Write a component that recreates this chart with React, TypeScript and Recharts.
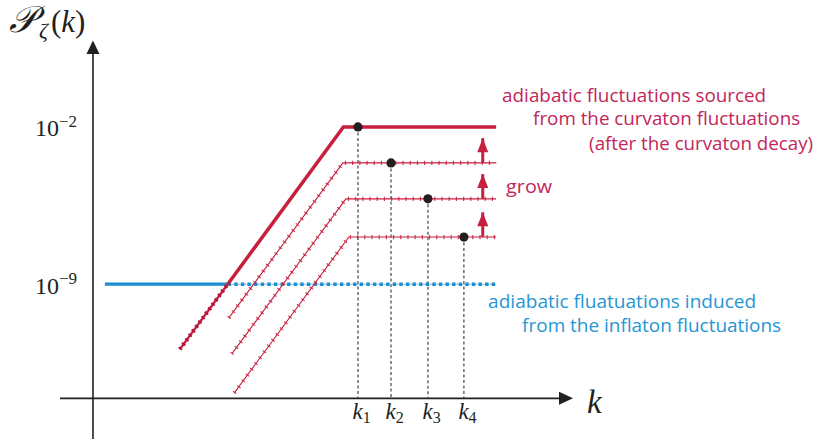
import React from 'react';
import { ComposedChart, Line, Scatter, XAxis, YAxis, ReferenceLine, ReferenceDot } from 'recharts';

// Schematic units: x = log10 k (arbitrary origin), y = log10 P_zeta
const X_DOMAIN: [number, number] = [-0.665, 9.68];
const Y_DOMAIN: [number, number] = [-15.89, 1.87];
const AXIS_Y = -14.08;
const X_END = 8.13;

const inflatonVisible = [{ x: 0.24, y: -9 }, { x: 2.717, y: -9 }];
const inflatonHidden = [{ x: 2.717, y: -9 }, { x: X_END, y: -9 }];
const curvatonLow = [{ x: 1.75, y: -11.9 }, { x: 2.717, y: -9 }];
const curvatonFinal = [{ x: 2.717, y: -9 }, { x: 5.05, y: -2 }, { x: X_END, y: -2 }];
const stageA = [{ x: 2.74, y: -10.5 }, { x: 5.04, y: -3.6 }, { x: X_END, y: -3.6 }];
const stageB = [{ x: 2.8, y: -12.1 }, { x: 5.1, y: -5.2 }, { x: X_END, y: -5.2 }];
const stageC = [{ x: 2.85, y: -13.84 }, { x: 5.16, y: -6.9 }, { x: X_END, y: -6.9 }];

const kNames = ['1', '2', '3', '4'];
const kValues = [5.344, 6.01, 6.755, 7.48];
const kLevels = [-2, -3.6, -5.2, -6.9];

const growX = 7.86;
const growFrom = [-6.9, -5.2, -3.6];
const growTo = [-5.8, -4.1, -2.5];

const yTickValues = [-2, -9];
const yTickExponents = ['−2', '−9'];

const RED = '#c71f3e';
const RED_TEXT = '#c2265a';
const BLUE = '#1b8dd0';
const BLUE_TEXT = '#2696d5';
const MATH = '"Liberation Serif", "DejaVu Serif", serif';
const SANS = '"Open Sans", "Noto Sans", sans-serif';

const kPoints = kValues.map((x, i) => ({ x, y: kLevels[i] }));

const arrowTip = (props: any) => {
  const { cx, cy, index } = props;
  if (index !== 1) return <g key={`a${index}`} />;
  return (
    <polygon
      key={`a${index}`}
      points={`${cx},${cy} ${cx - 5.5},${cy + 14} ${cx + 5.5},${cy + 14}`}
      fill={RED}
    />
  );
};

const blackDot = (props: any) => (
  <circle cx={props.cx} cy={props.cy} r={4.6} fill="#231f20" />
);

export default function App() {
  return (
    <div style={{ position: 'absolute', left: 0, top: 0, background: '#fff' }}>
      <ComposedChart
        width={815}
        height={439}
        margin={{ top: 40, right: 242, bottom: 0, left: 60 }}
      >
        <XAxis type="number" dataKey="x" domain={X_DOMAIN} hide allowDataOverflow />
        <YAxis type="number" dataKey="y" domain={Y_DOMAIN} hide allowDataOverflow />

        {/* axes */}
        <ReferenceLine
          segment={[{ x: X_DOMAIN[0], y: AXIS_Y }, { x: X_DOMAIN[1] - 0.2, y: AXIS_Y }]}
          stroke="#231f20"
          strokeWidth={1.6}
        />
        <ReferenceLine
          segment={[{ x: 0, y: Y_DOMAIN[0] }, { x: 0, y: Y_DOMAIN[1] - 0.4 }]}
          stroke="#231f20"
          strokeWidth={1.6}
        />
        <ReferenceDot
          x={X_DOMAIN[1]}
          y={AXIS_Y}
          r={0}
          ifOverflow="visible"
          shape={(p: any) => (
            <g>
              <polygon points={`${p.cx},${p.cy} ${p.cx - 14},${p.cy - 6.5} ${p.cx - 14},${p.cy + 6.5}`} fill="#231f20" />
              <text x={p.cx + 14} y={p.cy + 15} fontFamily={MATH} fontStyle="italic" fontSize={33} fill="#231f20">k</text>
            </g>
          )}
        />
        <ReferenceDot
          x={0}
          y={Y_DOMAIN[1]}
          r={0}
          ifOverflow="visible"
          shape={(p: any) => (
            <g>
              <polygon points={`${p.cx},${p.cy + 0.5} ${p.cx - 6.5},${p.cy + 14} ${p.cx + 6.5},${p.cy + 14}`} fill="#231f20" />
              <text x={p.cx - 84} y={p.cy - 8} fontFamily={MATH} fontSize={31} fill="#231f20">
                <tspan fontStyle="italic" fontSize={37}>𝒫</tspan>
                <tspan fontStyle="italic" fontSize={22} dx={3} dy={6}>ζ</tspan>
                <tspan dy={-6} dx={3}>(</tspan>
                <tspan fontStyle="italic">k</tspan>
                <tspan>)</tspan>
              </text>
            </g>
          )}
        />

        {/* y tick labels */}
        {yTickValues.map((v, i) => (
          <ReferenceDot
            key={`yt${i}`}
            x={0}
            y={v}
            r={0}
            ifOverflow="visible"
            shape={(p: any) => (
              <text x={p.cx - 58} y={p.cy + 9.5} fontFamily={MATH} fontSize={24} fill="#231f20">
                10<tspan fontSize={17} dy={-9.5}>{yTickExponents[i]}</tspan>
              </text>
            )}
          />
        ))}

        {/* guides from each horizon-crossing scale to the k axis */}
        {kValues.map((x, i) => (
          <ReferenceLine
            key={`kv${i}`}
            segment={[{ x, y: kLevels[i] }, { x, y: AXIS_Y }]}
            stroke="#333"
            strokeWidth={1.1}
            strokeDasharray="3 2.5"
          />
        ))}
        {kValues.map((x, i) => (
          <ReferenceDot
            key={`kl${i}`}
            x={x}
            y={AXIS_Y}
            r={0}
            ifOverflow="visible"
            shape={(p: any) => (
              <text x={p.cx - 5.5} y={p.cy + 21} fontFamily={MATH} fontSize={23} fill="#231f20">
                <tspan fontStyle="italic">k</tspan>
                <tspan fontSize={16} dy={4}>{kNames[i]}</tspan>
              </text>
            )}
          />
        ))}

        {/* inflaton-induced spectrum */}
        <Line data={inflatonVisible} dataKey="y" stroke={BLUE} strokeWidth={3.2} dot={false} activeDot={false} isAnimationActive={false} />
        <Line data={inflatonHidden} dataKey="y" stroke="#7cc0ea" strokeWidth={1} dot={false} activeDot={false} isAnimationActive={false} />
        <Line data={inflatonHidden} dataKey="y" stroke={BLUE} strokeWidth={3.4} strokeDasharray="3.4 3.2" dot={false} activeDot={false} isAnimationActive={false} />

        {/* curvaton spectra at successive times */}
        {[stageA, stageB, stageC].map((d, i) => (
          <Line key={`sb${i}`} data={d} dataKey="y" stroke={RED} strokeWidth={1.1} dot={false} activeDot={false} isAnimationActive={false} />
        ))}
        {[stageA, stageB, stageC].map((d, i) => (
          <Line key={`st${i}`} data={d} dataKey="y" stroke={RED} strokeOpacity={0.85} strokeWidth={4.2} strokeDasharray="1.2 6" dot={false} activeDot={false} isAnimationActive={false} />
        ))}
        <Line data={curvatonLow} dataKey="y" stroke={RED} strokeWidth={2.4} dot={false} activeDot={false} isAnimationActive={false} />
        <Line data={curvatonLow} dataKey="y" stroke="#b0173a" strokeWidth={4.2} strokeDasharray="2 3.5" dot={false} activeDot={false} isAnimationActive={false} />
        <Line data={curvatonFinal} dataKey="y" stroke={RED} strokeWidth={3.5} dot={false} activeDot={false} isAnimationActive={false} />

        {/* growth arrows */}
        {growFrom.map((y0, i) => (
          <Line
            key={`g${i}`}
            data={[{ x: growX, y: y0 }, { x: growX, y: growTo[i] }]}
            dataKey="y"
            stroke={RED}
            strokeWidth={3}
            dot={arrowTip}
            activeDot={false}
            isAnimationActive={false}
          />
        ))}

        <Scatter data={kPoints} dataKey="y" shape={blackDot} isAnimationActive={false} />

        {/* annotations */}
        <ReferenceDot
          x={X_END}
          y={-2}
          r={0}
          ifOverflow="visible"
          shape={(p: any) => (
            <g fontFamily={SANS} fontSize={18} fill={RED_TEXT}>
              <text x={p.cx + 6} y={p.cy - 25} textLength={264} lengthAdjust="spacingAndGlyphs">adiabatic fluctuations sourced</text>
              <text x={p.cx + 37} y={p.cy - 2} textLength={267} lengthAdjust="spacingAndGlyphs">from the curvaton fluctuations</text>
              <text x={p.cx + 93} y={p.cy + 23} textLength={224} lengthAdjust="spacingAndGlyphs">(after the curvaton decay)</text>
            </g>
          )}
        />
        <ReferenceDot
          x={X_END}
          y={-5.2}
          r={0}
          ifOverflow="visible"
          shape={(p: any) => (
            <text x={p.cx + 10} y={p.cy - 6} fontFamily={SANS} fontSize={18} fill={RED_TEXT} textLength={46} lengthAdjust="spacingAndGlyphs">grow</text>
          )}
        />
        <ReferenceDot
          x={X_END}
          y={-9}
          r={0}
          ifOverflow="visible"
          shape={(p: any) => (
            <g fontFamily={SANS} fontSize={18} fill={BLUE_TEXT}>
              <text x={p.cx - 8} y={p.cy + 24} textLength={268} lengthAdjust="spacingAndGlyphs">adiabatic fluatuations induced</text>
              <text x={p.cx + 26} y={p.cy + 48} textLength={259} lengthAdjust="spacingAndGlyphs">from the inflaton fluctuations</text>
            </g>
          )}
        />
      </ComposedChart>
    </div>
  );
}
